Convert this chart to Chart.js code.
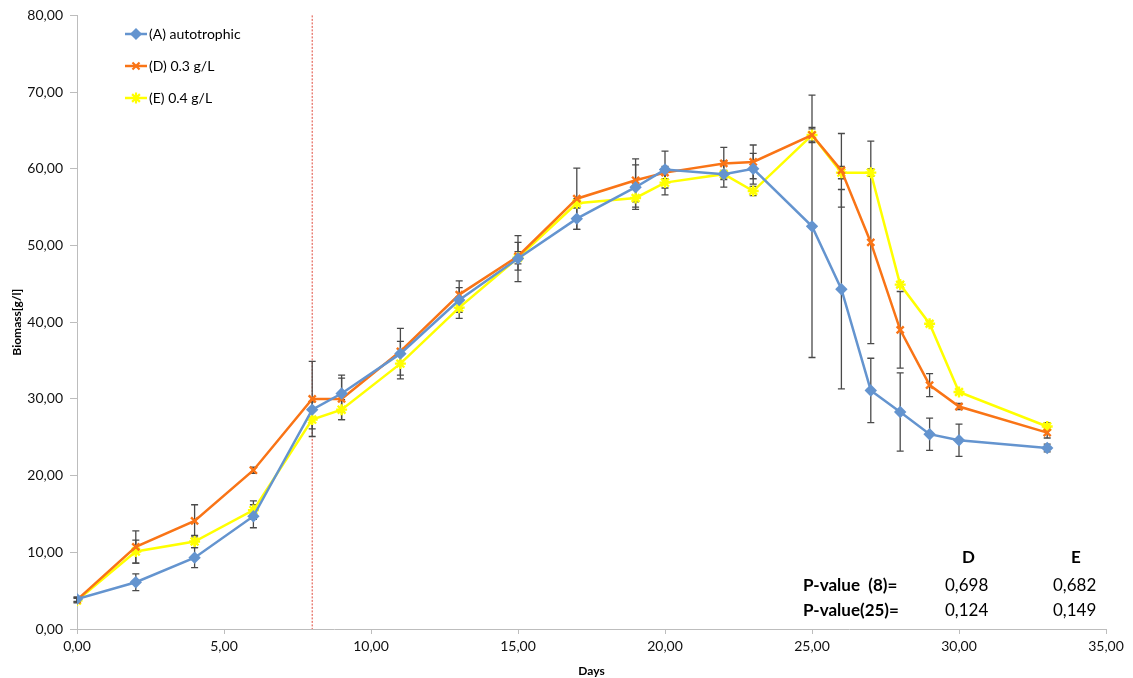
<!DOCTYPE html>
<html>
<head>
<meta charset="utf-8">
<script src="https://cdn.jsdelivr.net/npm/chart.js@4.4.1/dist/chart.umd.min.js"></script>
<style>
  body { margin: 0; background: #fff; }
  #wrap { position: relative; width: 1133px; height: 678px; }
  .pv { position: absolute; font-family: Lato, "Open Sans", sans-serif; font-size: 17px; color: #000; line-height: 1; white-space: pre; }
  .b { font-weight: bold; }
</style>
</head>
<body>
<div id="wrap">
  <canvas id="grafico" width="1133" height="678"></canvas>
  <div class="pv b" style="left:962px; top:548px;">D</div>
  <div class="pv b" style="left:1071px; top:548px;">E</div>
  <div class="pv b" style="left:803px; top:576px;">P-value  (8)=</div>
  <div class="pv" style="left:945px; top:576px;">0,698</div>
  <div class="pv" style="left:1053px; top:576px;">0,682</div>
  <div class="pv b" style="left:803px; top:601px;">P-value(25)=</div>
  <div class="pv" style="left:945px; top:601px;">0,124</div>
  <div class="pv" style="left:1053px; top:601px;">0,149</div>
</div>
<script>
var dias = [0, 2, 4, 6, 8, 9, 11, 13, 15, 17, 19, 20, 22, 23, 25, 26, 27, 28, 29, 30, 33];

var serieA = [3.9, 6.1, 9.3, 14.7, 28.6, 30.7, 35.9, 42.9, 48.3, 53.5, 57.6, 59.9, 59.3, 60.0, 52.5, 44.3, 31.1, 28.3, 25.4, 24.6, 23.6];
var serieD = [3.8, 10.7, 14.1, 20.7, 30.0, 30.0, 36.2, 43.6, 48.6, 56.1, 58.5, 59.5, 60.7, 60.9, 64.4, 59.8, 50.4, 39.0, 31.8, 29.0, 25.6];
var serieE = [3.7, 10.1, 11.4, 15.5, 27.3, 28.6, 34.6, 41.9, 48.4, 55.5, 56.2, 58.2, 59.3, 57.1, 64.4, 59.5, 59.5, 44.9, 39.8, 30.9, 26.4];

// desvio (+/-) de cada ponto
var erroA = [0.3, 1.1, 1.3, 1.5, 1.0, 2.4, 3.3, 1.6, 3.0, 1.4, 2.9, 2.4, 1.7, 2.0, 17.1, 13.0, 4.2, 5.1, 2.1, 2.1, 0.5];
var erroD = [0.3, 2.1, 2.1, 0.4, 4.9, 2.7, 1.3, 1.8, 1.8, 4.0, 2.8, 0.8, 2.1, 2.2, 1.0, 4.8, 13.2, 5.0, 1.5, 0.4, 0.7];
var erroE = [0.3, 1.5, 0.8, 1.2, 1.2, 1.3, 1.5, 1.4, 0.8, 0.6, 1.2, 1.6, 0.5, 0.6, 0.8, 0.8, 0.5, 0.3, 0.3, 0.3, 0.5];

var nomes = ['(A) autotrophic', '(D) 0.3 g/L', '(E) 0.4 g/L'];
var cores = ['#6494cf', '#f97416', '#ffff00'];
var marcadores = ['rectRot', 'crossRot', 'star'];
var raios = [4.5, 5, 5.5];
var diaLinha = 8;

var yTicks = [0, 10, 20, 30, 40, 50, 60, 70, 80];
var xTicks = [0, 5, 10, 15, 20, 25, 30, 35];

var fonte = 'Lato, "Open Sans", sans-serif';

function pontos(valores) {
    return dias.map(function (d, i) { return { x: d, y: valores[i] }; });
}

function virgula(v) {
    return v.toFixed(2).replace('.', ',');
}

var erros = [erroA, erroD, erroE];

var extras = {
    id: 'extras',
    beforeDatasetsDraw: function (chart) {
        var ctx = chart.ctx;
        var xs = chart.scales.x, ys = chart.scales.y;
        var x = xs.getPixelForValue(diaLinha);
        ctx.save();
        ctx.strokeStyle = '#e0493a';
        ctx.lineWidth = 1;
        ctx.setLineDash([2, 1.5]);
        ctx.beginPath();
        ctx.moveTo(x, chart.chartArea.top);
        ctx.lineTo(x, chart.chartArea.bottom);
        ctx.stroke();
        ctx.restore();

        // barras de erro
        ctx.save();
        ctx.strokeStyle = '#4a4a4a';
        ctx.lineWidth = 1.3;
        chart.data.datasets.forEach(function (ds, k) {
            ds.data.forEach(function (p, i) {
                var e = erros[k][i];
                var px = xs.getPixelForValue(p.x);
                var top = ys.getPixelForValue(p.y + e);
                var bot = ys.getPixelForValue(p.y - e);
                ctx.beginPath();
                ctx.moveTo(px, top); ctx.lineTo(px, bot);
                ctx.moveTo(px - 3.5, top); ctx.lineTo(px + 3.5, top);
                ctx.moveTo(px - 3.5, bot); ctx.lineTo(px + 3.5, bot);
                ctx.stroke();
            });
        });
        ctx.restore();
    },
    afterDatasetsDraw: function (chart) {
        var ctx = chart.ctx;
        // legenda dentro do gráfico
        ctx.save();
        ctx.font = '14px ' + fonte;
        ctx.textBaseline = 'middle';
        var linhas = [34, 66, 98];
        chart.data.datasets.forEach(function (ds, k) {
            var y = linhas[k];
            ctx.strokeStyle = ds.borderColor;
            ctx.fillStyle = ds.borderColor;
            ctx.lineWidth = 2.5;
            ctx.beginPath();
            ctx.moveTo(125, y); ctx.lineTo(147, y);
            ctx.stroke();
            ctx.lineWidth = 2.2;
            Chart.helpers.drawPoint(ctx, {
                pointStyle: ds.pointStyle, radius: raios[k], borderWidth: 2.2
            }, 136, y);
            ctx.fillStyle = '#000';
            ctx.fillText(ds.label, 149, y);
        });
        ctx.restore();
    }
};

var ctx = document.getElementById('grafico').getContext('2d');

new Chart(ctx, {
    type: 'line',
    data: {
        datasets: [serieA, serieD, serieE].map(function (s, k) {
            return {
                label: nomes[k],
                data: pontos(s),
                borderColor: cores[k],
                backgroundColor: cores[k],
                borderWidth: 2.5,
                pointStyle: marcadores[k],
                pointRadius: raios[k],
                pointBorderWidth: 2.4,
                tension: 0
            };
        })
    },
    options: {
        responsive: false,
        animation: false,
        events: [],
        layout: { padding: { left: 0, right: 27, top: 15, bottom: 0 } },
        plugins: {
            legend: { display: false },
            tooltip: { enabled: false }
        },
        scales: {
            x: {
                type: 'linear',
                min: 0,
                max: 35,
                afterFit: function (s) { s.height = 49; },
                afterBuildTicks: function (s) { s.ticks = xTicks.map(function (v) { return { value: v }; }); },
                border: { color: '#bdbdbd', width: 1 },
                grid: { drawOnChartArea: false, drawTicks: true, tickLength: 5, color: '#bdbdbd' },
                ticks: {
                    padding: 4,
                    color: '#111',
                    font: { family: fonte, size: 14 },
                    callback: function (v) { return virgula(v); }
                },
                title: {
                    display: true,
                    text: 'Days',
                    color: '#000',
                    padding: 0,
                    font: { family: fonte, size: 12, weight: 'bold' }
                }
            },
            y: {
                min: 0,
                max: 80,
                afterFit: function (s) { s.width = 77; },
                afterBuildTicks: function (s) { s.ticks = yTicks.map(function (v) { return { value: v }; }); },
                border: { color: '#bdbdbd', width: 1 },
                grid: { drawOnChartArea: false, drawTicks: true, tickLength: 7, color: '#bdbdbd' },
                ticks: {
                    padding: 7,
                    color: '#111',
                    font: { family: fonte, size: 14 },
                    callback: function (v) { return virgula(v); }
                },
                title: {
                    display: true,
                    text: 'Biomass[g/l]',
                    color: '#000',
                    padding: { top: 10, bottom: 0 },
                    font: { family: fonte, size: 12, weight: 'bold' }
                }
            }
        }
    },
    plugins: [extras]
});
</script>
</body>
</html>
